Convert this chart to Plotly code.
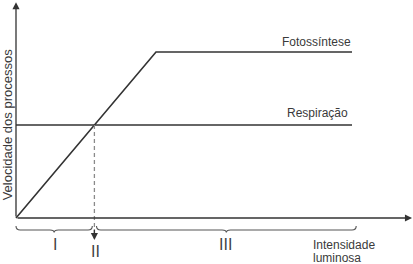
import plotly.graph_objects as go

# Data (arbitrary units)
photo_x = [0, 10, 24]
photo_y = [0, 10, 10]
resp_x = [0, 24]
resp_y = [5.6, 5.6]
comp_point = 5.6          # compensation point (light intensity)
region_end = 24.3
region_labels = ["I", "II", "III"]
x_title = ["Intensidade", "luminosa"]
y_title = "Velocidade dos processos"
series_names = ["Fotossíntese", "Respiração"]

LINE = "#333333"
TXT = "#3a3a3a"
FONT = "Arial, Liberation Sans, sans-serif"

fig = go.Figure()
fig.add_trace(go.Scatter(x=photo_x, y=photo_y, mode="lines",
                         line=dict(color=LINE, width=1.6), hoverinfo="skip"))
fig.add_trace(go.Scatter(x=resp_x, y=resp_y, mode="lines",
                         line=dict(color=LINE, width=1.6), hoverinfo="skip"))
# dashed drop line from the intersection
fig.add_trace(go.Scatter(x=[comp_point, comp_point], y=[resp_y[0], -0.9], mode="lines",
                         line=dict(color="#8a8a8a", width=1.3, dash="4px,3px"),
                         hoverinfo="skip"))

ann = []
# axes with arrows
ann.append(dict(x=0, y=13.0, ax=0, ay=0, xref="x", yref="y", axref="x", ayref="y",
                text="", showarrow=True, arrowhead=2, arrowsize=1.1, arrowwidth=1.3,
                arrowcolor=LINE, standoff=0))
ann.append(dict(x=28.29, y=0, ax=0, ay=0, xref="x", yref="y", axref="x", ayref="y",
                text="", showarrow=True, arrowhead=2, arrowsize=1.1, arrowwidth=1.3,
                arrowcolor=LINE, standoff=0))
# arrow at bottom of dashed line
ann.append(dict(x=comp_point, y=-1.33, ax=comp_point, ay=-0.6, xref="x", yref="y",
                axref="x", ayref="y", text="", showarrow=True, arrowhead=2,
                arrowsize=1.1, arrowwidth=1.3, arrowcolor=LINE, standoff=0))

# series labels
ann.append(dict(x=photo_x[-1] + 0.07, y=10.63, xref="x", yref="y", text=series_names[0],
                showarrow=False, xanchor="right", yanchor="middle",
                font=dict(family=FONT, size=12, color=TXT)))
ann.append(dict(x=resp_x[-1] - 0.14, y=6.33, xref="x", yref="y", text=series_names[1],
                showarrow=False, xanchor="right", yanchor="middle",
                font=dict(family=FONT, size=12, color=TXT)))

# region labels
ann.append(dict(x=comp_point / 2, y=-1.57, xref="x", yref="y", text=region_labels[0],
                showarrow=False, font=dict(family=FONT, size=16, color="#444444")))
ann.append(dict(x=comp_point + 0.05, y=-2.03, xref="x", yref="y", text=region_labels[1],
                showarrow=False, font=dict(family=FONT, size=16, color="#444444")))
ann.append(dict(x=(comp_point + region_end) / 2, y=-1.57, xref="x", yref="y",
                text=region_labels[2], showarrow=False,
                font=dict(family=FONT, size=16, color="#444444")))

# axis titles
ann.append(dict(x=21.1, y=-1.6, xref="x", yref="y", text=x_title[0], showarrow=False,
                xanchor="left", font=dict(family=FONT, size=12, color=TXT)))
ann.append(dict(x=21.1, y=-2.38, xref="x", yref="y", text=x_title[1], showarrow=False,
                xanchor="left", font=dict(family=FONT, size=12, color=TXT)))
ann.append(dict(x=0, y=0.527, xref="paper", yref="paper", text=y_title, showarrow=False,
                textangle=-90, xanchor="left", xshift=-1, borderpad=0,
                font=dict(family=FONT, size=13, color=TXT)))


def brace(xa, xb, ytop=-0.48, ymid=-0.72, ycusp=-0.88, r=0.3):
    xm = (xa + xb) / 2
    return (f"M {xa},{ytop} Q {xa},{ymid} {xa + r},{ymid} L {xm - r},{ymid} "
            f"Q {xm},{ymid} {xm},{ycusp} Q {xm},{ymid} {xm + r},{ymid} "
            f"L {xb - r},{ymid} Q {xb},{ymid} {xb},{ytop}")


shapes = [
    dict(type="path", xref="x", yref="y", path=brace(0, comp_point - 0.15),
         line=dict(color="#555555", width=1.1)),
    dict(type="path", xref="x", yref="y", path=brace(comp_point + 0.15, region_end),
         line=dict(color="#555555", width=1.1)),
]

fig.update_layout(
    width=413, height=264,
    margin=dict(l=0, r=0, t=0, b=0),
    paper_bgcolor="white", plot_bgcolor="white",
    showlegend=False,
    annotations=ann, shapes=shapes,
    xaxis=dict(range=[-16 / 14, 397 / 14], visible=False, fixedrange=True),
    yaxis=dict(range=[-46 / 16.6, 218 / 16.6], visible=False, fixedrange=True),
)

fig.write_html("out.html")
